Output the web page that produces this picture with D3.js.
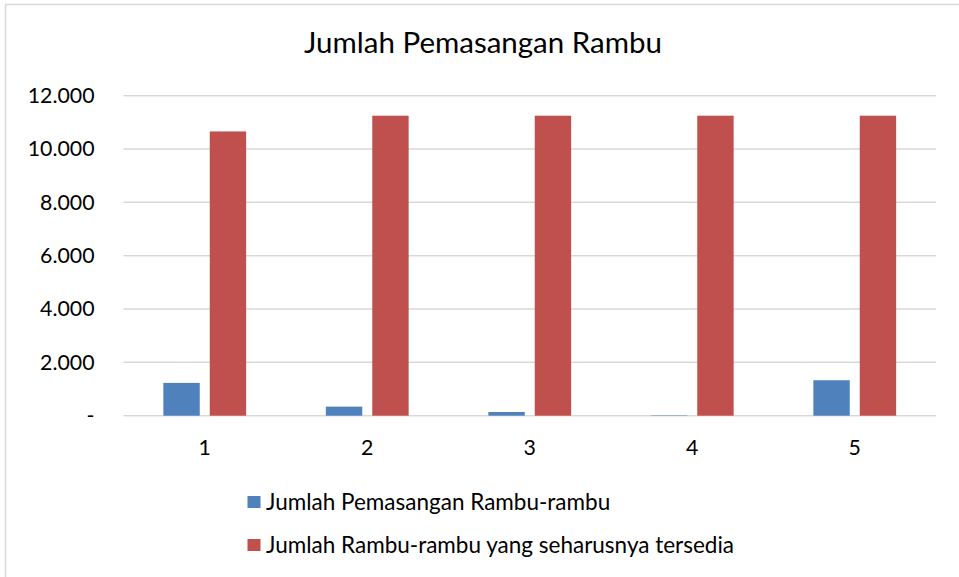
<!DOCTYPE html>
<html>
<head>
<meta charset="utf-8">
<script src="https://cdn.jsdelivr.net/npm/d3@7"></script>
<style>
  html, body { margin: 0; padding: 0; background: #fff; }
  svg { display: block; }
  text { font-family: Lato, "Open Sans", sans-serif; fill: #000; }
</style>
</head>
<body>
<svg id="chart" width="959" height="577"></svg>
<script>
// Chart data
const categories = ["1", "2", "3", "4", "5"];
const seriesNames = ["Jumlah Pemasangan Rambu-rambu", "Jumlah Rambu-rambu yang seharusnya tersedia"];
const installed = [1230, 340, 140, 15, 1330];
const required = [10660, 11250, 11250, 11250, 11250];
const yTicks = [0, 2000, 4000, 6000, 8000, 10000, 12000];
const colors = ["#4f81bd", "#c0504d"];
const title = "Jumlah Pemasangan Rambu";

const svg = d3.select("#chart");
const W = 959, H = 577;
const plot = { left: 123.5, right: 936, top: 95.7, bottom: 415.7 };

// Outer frame
svg.append("rect")
  .attr("x", 5.5).attr("y", 4.5)
  .attr("width", W + 10).attr("height", H + 10)
  .attr("fill", "#fff").attr("stroke", "#d9d9d9").attr("stroke-width", 1.5);

svg.append("text")
  .attr("x", 483).attr("y", 53)
  .attr("text-anchor", "middle")
  .attr("font-size", 29.5)
  .text(title);

const x0 = d3.scaleBand().domain(categories).range([plot.left, plot.right]).paddingInner(0).paddingOuter(0);
const y = d3.scaleLinear().domain([0, 12000]).range([plot.bottom, plot.top]);

const barW = 36.4, gap = 10;

// Gridlines
svg.append("g").selectAll("line").data(yTicks).join("line")
  .attr("x1", plot.left).attr("x2", plot.right)
  .attr("y1", d => y(d)).attr("y2", d => y(d))
  .attr("stroke", "#d9d9d9").attr("stroke-width", 1.5);

// Y axis labels
const fmt = d => d === 0 ? "-" : d3.format(",")(d).replace(/,/g, ".");
svg.append("g").selectAll("text").data(yTicks).join("text")
  .attr("x", 94.5).attr("y", d => y(d))
  .attr("dy", "0.35em")
  .attr("text-anchor", "end")
  .attr("font-size", 21.3)
  .text(fmt);

// Bars
const series = [installed, required];
series.forEach((vals, si) => {
  svg.append("g").selectAll("rect").data(vals).join("rect")
    .attr("x", (d, i) => {
      const c = x0(categories[i]) + x0.bandwidth() / 2;
      return si === 0 ? c - gap / 2 - barW : c + gap / 2;
    })
    .attr("y", d => y(d))
    .attr("width", barW)
    .attr("height", d => y(0) - y(d))
    .attr("fill", colors[si]);
});

// X axis labels
svg.append("g").selectAll("text").data(categories).join("text")
  .attr("x", d => x0(d) + x0.bandwidth() / 2)
  .attr("y", 447.5)
  .attr("dy", "0.35em")
  .attr("text-anchor", "middle")
  .attr("font-size", 21.3)
  .text(d => d);

// Legend
const legend = svg.append("g");
seriesNames.forEach((name, i) => {
  const cy = 502 + i * 43;
  legend.append("rect")
    .attr("x", 247.5).attr("y", cy - 6).attr("width", 13).attr("height", 12)
    .attr("fill", colors[i]);
  legend.append("text")
    .attr("x", 266).attr("y", cy)
    .attr("dy", "0.35em")
    .attr("font-size", 22.5)
    .text(name);
});
</script>
</body>
</html>
